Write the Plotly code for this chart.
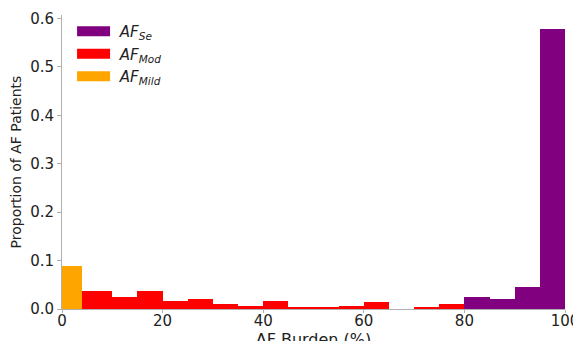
import plotly.graph_objects as go

# bin edges and proportions
mild_edges = [0, 4]
mild_vals = [0.088]
mod_edges = [4, 10, 15, 20, 25, 30, 35, 40, 45, 50, 55, 60, 65, 70, 75, 80]
mod_vals = [0.038, 0.025, 0.038, 0.0165, 0.0205, 0.0103, 0.006, 0.0165,
            0.0027, 0.0027, 0.0068, 0.0137, 0.0, 0.0034, 0.0103]
se_edges = [80, 85, 90, 95, 100]
se_vals = [0.0247, 0.0206, 0.046, 0.579]

x_ticks = [0, 20, 40, 60, 80, 100]
y_ticks = [0.0, 0.1, 0.2, 0.3, 0.4, 0.5, 0.6]

colors = {"se": "#800080", "mod": "#ff0000", "mild": "#ffa500"}
names = {"se": "&nbsp;<i>AF</i><sub><i>Se</i></sub>",
         "mod": "&nbsp;<i>AF</i><sub><i>Mod</i></sub>",
         "mild": "&nbsp;<i>AF</i><sub><i>Mild</i></sub>"}


def centers(edges):
    return [(a + b) / 2 for a, b in zip(edges[:-1], edges[1:])]


def widths(edges):
    return [b - a for a, b in zip(edges[:-1], edges[1:])]


fig = go.Figure()
for key, edges, vals in [("mild", mild_edges, mild_vals),
                         ("mod", mod_edges, mod_vals),
                         ("se", se_edges, se_vals)]:
    fig.add_trace(go.Bar(x=centers(edges), y=vals, width=widths(edges),
                         marker=dict(color=colors[key], line=dict(width=0)),
                         showlegend=False, hoverinfo="skip"))

# legend entries (thick line swatches)
for key in ["se", "mod", "mild"]:
    fig.add_trace(go.Scatter(x=[None], y=[None], mode="lines",
                             line=dict(color=colors[key], width=14),
                             name=names[key], showlegend=True))

axis_color = "#b0b0b0"
fig.update_layout(
    width=573, height=341,
    margin=dict(l=54, r=16, t=7, b=40),
    paper_bgcolor="white", plot_bgcolor="white",
    bargap=0,
    font=dict(family="DejaVu Sans", size=14, color="#222"),
    legend=dict(x=0.02, y=1.0, xanchor="left", yanchor="top",
                bgcolor="rgba(0,0,0,0)", itemwidth=33,
                font=dict(size=15), traceorder="normal"),
    xaxis=dict(range=[0, 100], tickvals=x_ticks, showgrid=False, zeroline=False,
               showline=True, linecolor=axis_color, linewidth=1,
               ticks="outside", ticklen=3, tickcolor=axis_color,
               tickfont=dict(size=15), ticklabelstandoff=-5,
               title=dict(text="AF Burden (%)", font=dict(size=16), standoff=2),
               automargin=False),
    yaxis=dict(range=[0, 0.607], tickvals=y_ticks, tickformat=".1f", showgrid=False,
               zeroline=False, showline=True, linecolor=axis_color, linewidth=1,
               ticks="outside", ticklen=4, tickcolor=axis_color,
               tickfont=dict(size=15),
               title=dict(text="Proportion of AF Patients", font=dict(size=14), standoff=6),
               automargin=False),
)

fig.write_html("out.html")
